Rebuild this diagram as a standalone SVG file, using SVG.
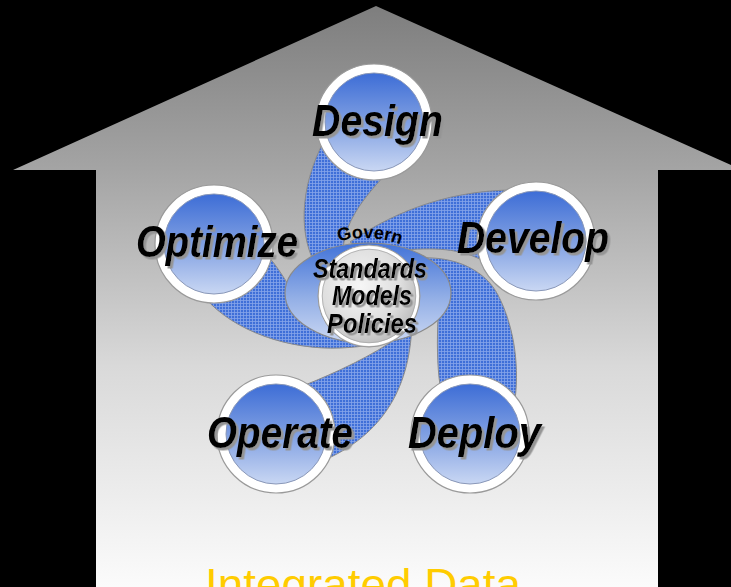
<svg xmlns="http://www.w3.org/2000/svg" xmlns:xlink="http://www.w3.org/1999/xlink" width="731" height="587" viewBox="0 0 731 587">
<defs>
<linearGradient id="houseG" gradientUnits="userSpaceOnUse" x1="0" y1="6" x2="0" y2="587">
<stop offset="0" stop-color="#7e7e7e"/><stop offset="0.28" stop-color="#a4a4a4"/><stop offset="0.62" stop-color="#d9d9d9"/><stop offset="1" stop-color="#fbfbfb"/>
</linearGradient>
<linearGradient id="ballG" x1="0" y1="0" x2="0" y2="1">
<stop offset="0" stop-color="#3d6dd6"/><stop offset="0.5" stop-color="#7f9fe2"/><stop offset="1" stop-color="#c9d7f3"/>
</linearGradient>
<linearGradient id="ellG" x1="0" y1="0" x2="0" y2="1">
<stop offset="0" stop-color="#4273d8"/><stop offset="0.55" stop-color="#93afe6"/><stop offset="1" stop-color="#cbd8f3"/>
</linearGradient>
<radialGradient id="coreG" cx="0.42" cy="0.4" r="0.65">
<stop offset="0" stop-color="#f6f6f6"/><stop offset="0.6" stop-color="#dedede"/><stop offset="1" stop-color="#b4b4b4"/>
</radialGradient>
<pattern id="hatch" patternUnits="userSpaceOnUse" width="3" height="3">
<rect width="3" height="3" fill="#3f6fd8"/>
<path d="M0 0.5H3M0.5 0V3" stroke="#86a4ea" stroke-width="0.8"/>
</pattern>
<filter id="sh" x="-10%" y="-20%" width="130%" height="150%">
<feDropShadow dx="2.5" dy="2.5" stdDeviation="0.4" flood-color="#959595" flood-opacity="1"/>
</filter>
<path id="govArc" d="M320,248.7 A100,100 0 0 1 420,254.5"/>
</defs>
<style>
.blade{fill:url(#hatch);stroke:#8a8a8a;stroke-width:1}
.ring{fill:#ffffff;stroke:#9a9a9a;stroke-width:1.2}
.ball{fill:url(#ballG);stroke:#8a98b8;stroke-width:1}
.lbl{font-family:"Liberation Sans",Arial,sans-serif;font-weight:bold;font-style:italic;font-size:45px;fill:#000;filter:url(#sh)}
.clbl{font-family:"Liberation Sans",Arial,sans-serif;font-weight:bold;font-style:italic;font-size:28px;fill:#000;filter:url(#sh)}
</style>
<rect width="731" height="587" fill="#000"/>
<polygon points="376,6 742,170 658,170 658,587 96,587 96,170 13,170" fill="url(#houseG)"/>

<g id="connectors">
<path class="blade" d="M330,130 C300,180 298,230 314,262 L345,290 L343,250 C345,222 362,200 385,175 Z"/>
<path class="blade" d="M350,242 C385,218 440,190 515,190 L536,241 L485,262 C465,250 440,247 405,250 L385,262 Z"/>
<path class="blade" d="M420,258 C455,256 485,270 498,295 C512,322 520,360 515,400 L470,434 L440,385 C437,365 437,340 438,318 Z"/>
<path class="blade" d="M412,320 C411,385 385,435 320,462 L276,434 L305,385 C335,373 372,356 400,336 Z"/>
<path class="blade" d="M300,300 L290,287 C283,277 275,262 262,250 L214,244 L205,298 C235,332 290,350 340,348 C365,347 385,343 400,336 L360,320 Z"/>
</g>

<g id="govern">
<ellipse cx="368" cy="293" rx="83" ry="50" fill="url(#ellG)" stroke="#8a8a8a" stroke-width="1.2"/>
<circle cx="369" cy="296" r="51" fill="url(#coreG)" stroke="#9a9a9a" stroke-width="1"/>
<circle cx="369" cy="296" r="48.5" fill="none" stroke="#ffffff" stroke-width="3"/>
<circle cx="369" cy="296" r="46.8" fill="none" stroke="#a8a8a8" stroke-width="0.8"/>
<text font-family="'Liberation Sans',Arial,sans-serif" font-weight="bold" font-size="18" fill="#000"><textPath xlink:href="#govArc" href="#govArc" startOffset="49%" text-anchor="middle">Govern</textPath></text>
<text class="clbl" x="313" y="278" textLength="114" lengthAdjust="spacingAndGlyphs">Standards</text>
<text class="clbl" x="332" y="305" textLength="80" lengthAdjust="spacingAndGlyphs">Models</text>
<text class="clbl" x="327" y="333" textLength="90" lengthAdjust="spacingAndGlyphs">Policies</text>
</g>

<g id="design">
<circle class="ring" cx="374" cy="122" r="58"/>
<circle class="ball" cx="374" cy="122" r="49"/>
<text class="lbl" x="312" y="136" textLength="131" lengthAdjust="spacingAndGlyphs">Design</text>
</g>
<g id="develop">
<circle class="ring" cx="536" cy="241" r="59"/>
<circle class="ball" cx="536" cy="241" r="50"/>
<text class="lbl" x="457" y="253" textLength="152" lengthAdjust="spacingAndGlyphs">Develop</text>
</g>
<g id="deploy">
<circle class="ring" cx="470" cy="434" r="59"/>
<circle class="ball" cx="470" cy="434" r="50"/>
<text class="lbl" x="408" y="448" textLength="133" lengthAdjust="spacingAndGlyphs">Deploy</text>
</g>
<g id="operate">
<circle class="ring" cx="276" cy="434" r="59"/>
<circle class="ball" cx="276" cy="434" r="50"/>
<text class="lbl" x="207" y="448" textLength="146" lengthAdjust="spacingAndGlyphs">Operate</text>
</g>
<g id="optimize">
<circle class="ring" cx="214" cy="244" r="59"/>
<circle class="ball" cx="214" cy="244" r="50"/>
<text class="lbl" x="136" y="257" textLength="162" lengthAdjust="spacingAndGlyphs">Optimize</text>
</g>

<text x="205" y="600" font-family="'Liberation Sans',Arial,sans-serif" font-size="44" fill="#ffcc00" textLength="316" lengthAdjust="spacingAndGlyphs">Integrated Data</text>
</svg>
